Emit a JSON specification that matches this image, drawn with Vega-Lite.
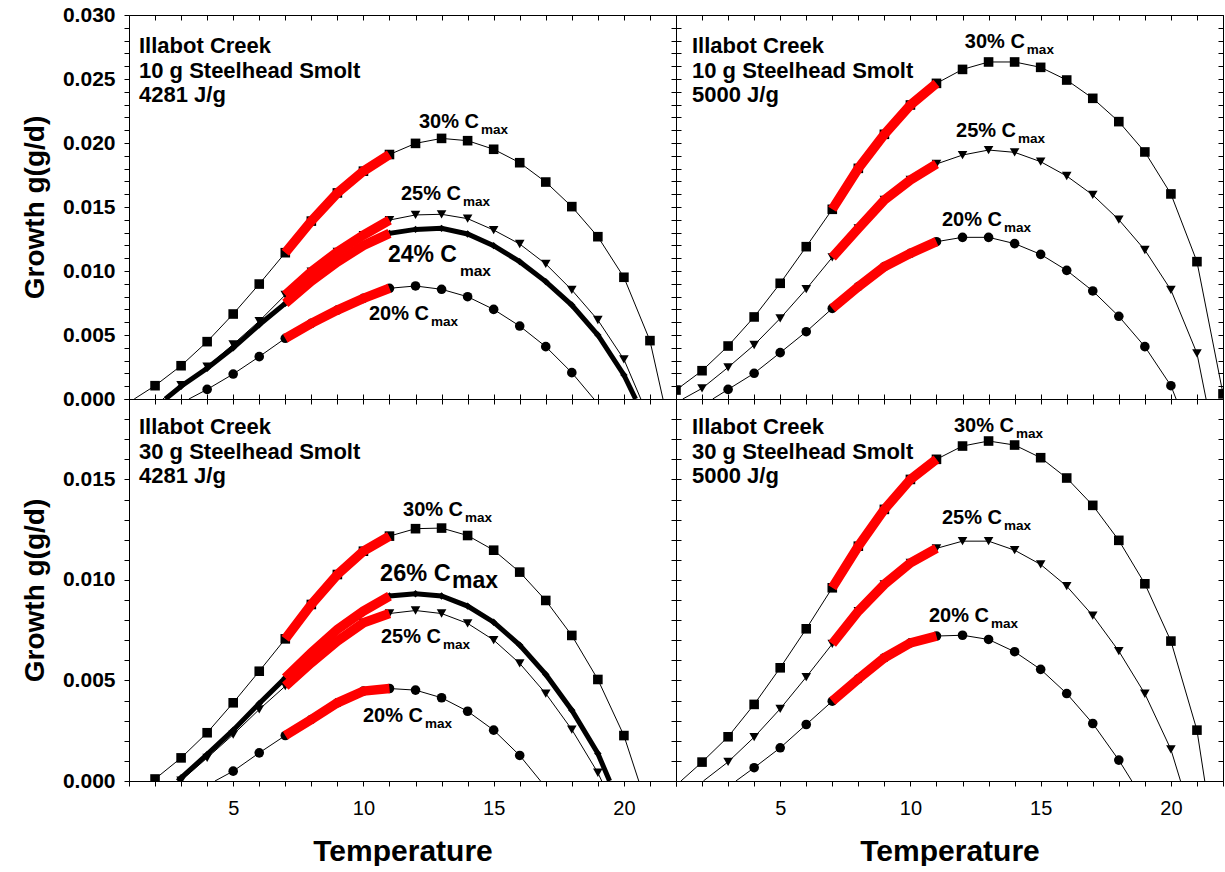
{
"$schema": "https://vega.github.io/schema/vega-lite/v6.json",
"background": "white",
"padding": {"left": 21, "top": 4, "right": 0, "bottom": 0},
"config": {"font": "Liberation Sans", "view": {"stroke": null}, "axis": {"labelFont": "Liberation Sans", "titleFont": "Liberation Sans"}, "text": {"font": "Liberation Sans", "color": "black"}},
"datasets": {
"curves": [
{"p":"TL","s":"30","T":1.2,"g":0},{"p":"TL","s":"30","T":2,"g":0.00104},{"p":"TL","s":"30","T":3,"g":0.0026},{"p":"TL","s":"30","T":4,"g":0.00448},{"p":"TL","s":"30","T":5,"g":0.00664},{"p":"TL","s":"30","T":6,"g":0.00898},{"p":"TL","s":"30","T":7,"g":0.01143},{"p":"TL","s":"30","T":8,"g":0.0139},{"p":"TL","s":"30","T":9,"g":0.0161},{"p":"TL","s":"30","T":10,"g":0.0178},{"p":"TL","s":"30","T":11,"g":0.0191},{"p":"TL","s":"30","T":12,"g":0.01997},{"p":"TL","s":"30","T":13,"g":0.02036},{"p":"TL","s":"30","T":14,"g":0.02018},{"p":"TL","s":"30","T":15,"g":0.01951},{"p":"TL","s":"30","T":16,"g":0.01846},{"p":"TL","s":"30","T":17,"g":0.01695},{"p":"TL","s":"30","T":18,"g":0.01503},{"p":"TL","s":"30","T":19,"g":0.01268},{"p":"TL","s":"30","T":20,"g":0.00951},{"p":"TL","s":"30","T":21,"g":0.00456},{"p":"TL","s":"30","T":21.5,"g":0},
{"p":"TL","s":"25","T":2.3,"g":0},{"p":"TL","s":"25","T":3,"g":0.00109},{"p":"TL","s":"25","T":4,"g":0.00253},{"p":"TL","s":"25","T":5,"g":0.00427},{"p":"TL","s":"25","T":6,"g":0.00609},{"p":"TL","s":"25","T":7,"g":0.00813},{"p":"TL","s":"25","T":8,"g":0.00995},{"p":"TL","s":"25","T":9,"g":0.0115},{"p":"TL","s":"25","T":10,"g":0.01281},{"p":"TL","s":"25","T":11,"g":0.01398},{"p":"TL","s":"25","T":12,"g":0.01438},{"p":"TL","s":"25","T":13,"g":0.01443},{"p":"TL","s":"25","T":14,"g":0.01409},{"p":"TL","s":"25","T":15,"g":0.0132},{"p":"TL","s":"25","T":16,"g":0.01211},{"p":"TL","s":"25","T":17,"g":0.01055},{"p":"TL","s":"25","T":18,"g":0.00852},{"p":"TL","s":"25","T":19,"g":0.00617},{"p":"TL","s":"25","T":20,"g":0.0031},{"p":"TL","s":"25","T":20.65,"g":0},
{"p":"TL","s":"24","T":2.4,"g":0},{"p":"TL","s":"24","T":3,"g":0.001},{"p":"TL","s":"24","T":4,"g":0.0024},{"p":"TL","s":"24","T":5,"g":0.004},{"p":"TL","s":"24","T":6,"g":0.0058},{"p":"TL","s":"24","T":7,"g":0.00747},{"p":"TL","s":"24","T":8,"g":0.0092},{"p":"TL","s":"24","T":9,"g":0.0107},{"p":"TL","s":"24","T":10,"g":0.012},{"p":"TL","s":"24","T":11,"g":0.01294},{"p":"TL","s":"24","T":12,"g":0.01325},{"p":"TL","s":"24","T":13,"g":0.01333},{"p":"TL","s":"24","T":14,"g":0.01289},{"p":"TL","s":"24","T":15,"g":0.01198},{"p":"TL","s":"24","T":16,"g":0.01073},{"p":"TL","s":"24","T":17,"g":0.00917},{"p":"TL","s":"24","T":18,"g":0.00734},{"p":"TL","s":"24","T":19,"g":0.005},{"p":"TL","s":"24","T":20,"g":0.00188},{"p":"TL","s":"24","T":20.45,"g":0},
{"p":"TL","s":"20","T":3.3,"g":0},{"p":"TL","s":"20","T":4,"g":0.00075},{"p":"TL","s":"20","T":5,"g":0.00195},{"p":"TL","s":"20","T":6,"g":0.00331},{"p":"TL","s":"20","T":7,"g":0.00474},{"p":"TL","s":"20","T":8,"g":0.00591},{"p":"TL","s":"20","T":9,"g":0.00695},{"p":"TL","s":"20","T":10,"g":0.00786},{"p":"TL","s":"20","T":11,"g":0.00865},{"p":"TL","s":"20","T":12,"g":0.00883},{"p":"TL","s":"20","T":13,"g":0.00857},{"p":"TL","s":"20","T":14,"g":0.00799},{"p":"TL","s":"20","T":15,"g":0.007},{"p":"TL","s":"20","T":16,"g":0.0057},{"p":"TL","s":"20","T":17,"g":0.00409},{"p":"TL","s":"20","T":18,"g":0.00206},{"p":"TL","s":"20","T":18.85,"g":0},
{"p":"TR","s":"30","T":1,"g":0.0007},{"p":"TR","s":"30","T":2,"g":0.00221},{"p":"TR","s":"30","T":3,"g":0.00414},{"p":"TR","s":"30","T":4,"g":0.00641},{"p":"TR","s":"30","T":5,"g":0.00904},{"p":"TR","s":"30","T":6,"g":0.0119},{"p":"TR","s":"30","T":7,"g":0.01482},{"p":"TR","s":"30","T":8,"g":0.01802},{"p":"TR","s":"30","T":9,"g":0.02068},{"p":"TR","s":"30","T":10,"g":0.02297},{"p":"TR","s":"30","T":11,"g":0.02466},{"p":"TR","s":"30","T":12,"g":0.02575},{"p":"TR","s":"30","T":13,"g":0.02633},{"p":"TR","s":"30","T":14,"g":0.02633},{"p":"TR","s":"30","T":15,"g":0.02591},{"p":"TR","s":"30","T":16,"g":0.02492},{"p":"TR","s":"30","T":17,"g":0.02349},{"p":"TR","s":"30","T":18,"g":0.02167},{"p":"TR","s":"30","T":19,"g":0.0193},{"p":"TR","s":"30","T":20,"g":0.01602},{"p":"TR","s":"30","T":21,"g":0.01073},{"p":"TR","s":"30","T":22,"g":0.0004},
{"p":"TR","s":"25","T":1.26,"g":0},{"p":"TR","s":"25","T":2,"g":0.00083},{"p":"TR","s":"25","T":3,"g":0.00247},{"p":"TR","s":"25","T":4,"g":0.00422},{"p":"TR","s":"25","T":5,"g":0.0063},{"p":"TR","s":"25","T":6,"g":0.00859},{"p":"TR","s":"25","T":7,"g":0.01107},{"p":"TR","s":"25","T":8,"g":0.01333},{"p":"TR","s":"25","T":9,"g":0.01555},{"p":"TR","s":"25","T":10,"g":0.01711},{"p":"TR","s":"25","T":11,"g":0.01836},{"p":"TR","s":"25","T":12,"g":0.01906},{"p":"TR","s":"25","T":13,"g":0.01945},{"p":"TR","s":"25","T":14,"g":0.01927},{"p":"TR","s":"25","T":15,"g":0.01854},{"p":"TR","s":"25","T":16,"g":0.01742},{"p":"TR","s":"25","T":17,"g":0.01594},{"p":"TR","s":"25","T":18,"g":0.01401},{"p":"TR","s":"25","T":19,"g":0.01164},{"p":"TR","s":"25","T":20,"g":0.00852},{"p":"TR","s":"25","T":21,"g":0.00357},{"p":"TR","s":"25","T":21.35,"g":0},
{"p":"TR","s":"20","T":2.41,"g":0},{"p":"TR","s":"20","T":3,"g":0.00075},{"p":"TR","s":"20","T":4,"g":0.00201},{"p":"TR","s":"20","T":5,"g":0.00362},{"p":"TR","s":"20","T":6,"g":0.00526},{"p":"TR","s":"20","T":7,"g":0.00708},{"p":"TR","s":"20","T":8,"g":0.00878},{"p":"TR","s":"20","T":9,"g":0.01034},{"p":"TR","s":"20","T":10,"g":0.01138},{"p":"TR","s":"20","T":11,"g":0.01229},{"p":"TR","s":"20","T":12,"g":0.01263},{"p":"TR","s":"20","T":13,"g":0.01263},{"p":"TR","s":"20","T":14,"g":0.01214},{"p":"TR","s":"20","T":15,"g":0.0113},{"p":"TR","s":"20","T":16,"g":0.01005},{"p":"TR","s":"20","T":17,"g":0.00844},{"p":"TR","s":"20","T":18,"g":0.00646},{"p":"TR","s":"20","T":19,"g":0.00409},{"p":"TR","s":"20","T":20,"g":0.00104},{"p":"TR","s":"20","T":20.2,"g":0},
{"p":"BL","s":"30","T":2,"g":0.0001},{"p":"BL","s":"30","T":3,"g":0.00115},{"p":"BL","s":"30","T":4,"g":0.0024},{"p":"BL","s":"30","T":5,"g":0.00389},{"p":"BL","s":"30","T":6,"g":0.00546},{"p":"BL","s":"30","T":7,"g":0.00707},{"p":"BL","s":"30","T":8,"g":0.00878},{"p":"BL","s":"30","T":9,"g":0.01027},{"p":"BL","s":"30","T":10,"g":0.01143},{"p":"BL","s":"30","T":11,"g":0.01218},{"p":"BL","s":"30","T":12,"g":0.01255},{"p":"BL","s":"30","T":13,"g":0.01258},{"p":"BL","s":"30","T":14,"g":0.01221},{"p":"BL","s":"30","T":15,"g":0.01148},{"p":"BL","s":"30","T":16,"g":0.01039},{"p":"BL","s":"30","T":17,"g":0.00898},{"p":"BL","s":"30","T":18,"g":0.00724},{"p":"BL","s":"30","T":19,"g":0.00505},{"p":"BL","s":"30","T":20,"g":0.00226},{"p":"BL","s":"30","T":20.57,"g":0},
{"p":"BL","s":"26","T":2.87,"g":0},{"p":"BL","s":"26","T":3,"g":0.00016},{"p":"BL","s":"26","T":4,"g":0.00132},{"p":"BL","s":"26","T":5,"g":0.00253},{"p":"BL","s":"26","T":6,"g":0.00386},{"p":"BL","s":"26","T":7,"g":0.00513},{"p":"BL","s":"26","T":8,"g":0.00638},{"p":"BL","s":"26","T":9,"g":0.00754},{"p":"BL","s":"26","T":10,"g":0.00845},{"p":"BL","s":"26","T":11,"g":0.0092},{"p":"BL","s":"26","T":12,"g":0.00931},{"p":"BL","s":"26","T":13,"g":0.0092},{"p":"BL","s":"26","T":14,"g":0.0087},{"p":"BL","s":"26","T":15,"g":0.0079},{"p":"BL","s":"26","T":16,"g":0.00676},{"p":"BL","s":"26","T":17,"g":0.0053},{"p":"BL","s":"26","T":18,"g":0.00352},{"p":"BL","s":"26","T":19,"g":0.00137},{"p":"BL","s":"26","T":19.45,"g":0},
{"p":"BL","s":"25","T":3,"g":0.00002},{"p":"BL","s":"25","T":4,"g":0.00115},{"p":"BL","s":"25","T":5,"g":0.00231},{"p":"BL","s":"25","T":6,"g":0.00356},{"p":"BL","s":"25","T":7,"g":0.00472},{"p":"BL","s":"25","T":8,"g":0.00588},{"p":"BL","s":"25","T":9,"g":0.00696},{"p":"BL","s":"25","T":10,"g":0.00787},{"p":"BL","s":"25","T":11,"g":0.00833},{"p":"BL","s":"25","T":12,"g":0.00848},{"p":"BL","s":"25","T":13,"g":0.00833},{"p":"BL","s":"25","T":14,"g":0.00784},{"p":"BL","s":"25","T":15,"g":0.00701},{"p":"BL","s":"25","T":16,"g":0.00585},{"p":"BL","s":"25","T":17,"g":0.00435},{"p":"BL","s":"25","T":18,"g":0.00256},{"p":"BL","s":"25","T":19,"g":0.00041},{"p":"BL","s":"25","T":19.15,"g":0},
{"p":"BL","s":"20","T":4.3,"g":0},{"p":"BL","s":"20","T":5,"g":0.00049},{"p":"BL","s":"20","T":6,"g":0.0014},{"p":"BL","s":"20","T":7,"g":0.00226},{"p":"BL","s":"20","T":8,"g":0.00306},{"p":"BL","s":"20","T":9,"g":0.00389},{"p":"BL","s":"20","T":10,"g":0.00447},{"p":"BL","s":"20","T":11,"g":0.0046},{"p":"BL","s":"20","T":12,"g":0.00452},{"p":"BL","s":"20","T":13,"g":0.00414},{"p":"BL","s":"20","T":14,"g":0.00347},{"p":"BL","s":"20","T":15,"g":0.00253},{"p":"BL","s":"20","T":16,"g":0.00127},{"p":"BL","s":"20","T":16.8,"g":0},
{"p":"BR","s":"30","T":1.19,"g":0},{"p":"BR","s":"30","T":2,"g":0.00094},{"p":"BR","s":"30","T":3,"g":0.0022},{"p":"BR","s":"30","T":4,"g":0.00381},{"p":"BR","s":"30","T":5,"g":0.00563},{"p":"BR","s":"30","T":6,"g":0.00757},{"p":"BR","s":"30","T":7,"g":0.00961},{"p":"BR","s":"30","T":8,"g":0.01168},{"p":"BR","s":"30","T":9,"g":0.01351},{"p":"BR","s":"30","T":10,"g":0.015},{"p":"BR","s":"30","T":11,"g":0.016},{"p":"BR","s":"30","T":12,"g":0.01666},{"p":"BR","s":"30","T":13,"g":0.01691},{"p":"BR","s":"30","T":14,"g":0.01671},{"p":"BR","s":"30","T":15,"g":0.01608},{"p":"BR","s":"30","T":16,"g":0.01507},{"p":"BR","s":"30","T":17,"g":0.01371},{"p":"BR","s":"30","T":18,"g":0.01197},{"p":"BR","s":"30","T":19,"g":0.00981},{"p":"BR","s":"30","T":20,"g":0.00696},{"p":"BR","s":"30","T":21,"g":0.00253},{"p":"BR","s":"30","T":21.3,"g":0},
{"p":"BR","s":"25","T":2.05,"g":0},{"p":"BR","s":"25","T":3,"g":0.00095},{"p":"BR","s":"25","T":4,"g":0.00218},{"p":"BR","s":"25","T":5,"g":0.00359},{"p":"BR","s":"25","T":6,"g":0.00517},{"p":"BR","s":"25","T":7,"g":0.00682},{"p":"BR","s":"25","T":8,"g":0.00845},{"p":"BR","s":"25","T":9,"g":0.00978},{"p":"BR","s":"25","T":10,"g":0.01085},{"p":"BR","s":"25","T":11,"g":0.01157},{"p":"BR","s":"25","T":12,"g":0.01193},{"p":"BR","s":"25","T":13,"g":0.01193},{"p":"BR","s":"25","T":14,"g":0.01148},{"p":"BR","s":"25","T":15,"g":0.01077},{"p":"BR","s":"25","T":16,"g":0.00969},{"p":"BR","s":"25","T":17,"g":0.00823},{"p":"BR","s":"25","T":18,"g":0.00646},{"p":"BR","s":"25","T":19,"g":0.00434},{"p":"BR","s":"25","T":20,"g":0.00157},{"p":"BR","s":"25","T":20.37,"g":0},
{"p":"BR","s":"20","T":3.3,"g":0},{"p":"BR","s":"20","T":4,"g":0.00066},{"p":"BR","s":"20","T":5,"g":0.00165},{"p":"BR","s":"20","T":6,"g":0.00281},{"p":"BR","s":"20","T":7,"g":0.00397},{"p":"BR","s":"20","T":8,"g":0.00508},{"p":"BR","s":"20","T":9,"g":0.00613},{"p":"BR","s":"20","T":10,"g":0.00687},{"p":"BR","s":"20","T":11,"g":0.00721},{"p":"BR","s":"20","T":12,"g":0.00725},{"p":"BR","s":"20","T":13,"g":0.00704},{"p":"BR","s":"20","T":14,"g":0.00643},{"p":"BR","s":"20","T":15,"g":0.00555},{"p":"BR","s":"20","T":16,"g":0.00435},{"p":"BR","s":"20","T":17,"g":0.00286},{"p":"BR","s":"20","T":18,"g":0.00104},{"p":"BR","s":"20","T":18.5,"g":0}
],
"labels": [
{"p":"TL","T":12.13,"g":0.02117,"t":"30% C","k":"n"},{"p":"TL","T":11.44,"g":0.01555,"t":"25% C","k":"n"},{"p":"TL","T":10.94,"g":0.0107,"t":"24% C","k":"big"},{"p":"TL","T":10.21,"g":0.00617,"t":"20% C","k":"n"},
{"p":"TR","T":12.09,"g":0.02742,"t":"30% C","k":"n"},{"p":"TR","T":11.75,"g":0.02047,"t":"25% C","k":"n"},{"p":"TR","T":11.21,"g":0.01352,"t":"20% C","k":"n"},
{"p":"BL","T":11.52,"g":0.01316,"t":"30% C","k":"n"},{"p":"BL","T":10.64,"g":0.00993,"t":"26% C","k":"big"},{"p":"BL","T":10.67,"g":0.00684,"t":"25% C","k":"n"},{"p":"BL","T":9.98,"g":0.00291,"t":"20% C","k":"n"},
{"p":"BR","T":11.67,"g":0.01734,"t":"30% C","k":"n"},{"p":"BR","T":11.21,"g":0.01276,"t":"25% C","k":"n"},{"p":"BR","T":10.71,"g":0.0079,"t":"20% C","k":"n"},
{"p":"TL","T":1.384,"g":0.02703,"t":"Illabot Creek\n10 g Steelhead Smolt\n4281 J/g","k":"title"},
{"p":"TR","T":1.614,"g":0.02703,"t":"Illabot Creek\n10 g Steelhead Smolt\n5000 J/g","k":"title"},
{"p":"BL","T":1.384,"g":0.01724,"t":"Illabot Creek\n30 g Steelhead Smolt\n4281 J/g","k":"title"},
{"p":"BR","T":1.614,"g":0.01724,"t":"Illabot Creek\n30 g Steelhead Smolt\n5000 J/g","k":"title"}
]
},
"columns": 2,
"spacing": 0,
"align": "each",
"bounds": "flush",
"concat": [
{
"width": 547, "height": 384,
"layer": [
{"data":{"name":"curves"},"transform":[{"filter":"datum.p=='TL' && datum.s!='24' && datum.s!='26'"}],
 "mark":{"type":"line","color":"black","strokeWidth":1,"clip":true},
 "encoding":{"x":{"field":"T","type":"quantitative","scale":{"domain":[1,22],"nice":false,"zero":false},"axis":{"orient":"bottom","values":[1,2,3,4,5,6,7,8,9,10,11,12,13,14,15,16,17,18,19,20,21,22],"labels":false,"tickSize":-5,"tickColor":"black","domainColor":"black","grid":false,"title":null}},
 "y":{"field":"g","type":"quantitative","scale":{"domain":[0,0.03],"nice":false},"axis":{"orient":"left","values":[0,0.001,0.002,0.003,0.004,0.005,0.006,0.007,0.008,0.009,0.01,0.011,0.012,0.013,0.014,0.015,0.016,0.017,0.018,0.019,0.02,0.021,0.022,0.023,0.024,0.025,0.026,0.027,0.028,0.029,0.03],"labelExpr":"round(datum.value*1000) % 5 == 0 ? format(datum.value, '.3f') : ''","labelFontSize":21,"labelFontWeight":"bold","labelColor":"black","labelPadding":9,"labelOverlap":false,"labelFlush":false,"tickSize":5,"tickColor":"black","domainColor":"black","grid":false,"title":"Growth g(g/d)","titleFontSize":28,"titleFontWeight":"bold","titleColor":"black","titlePadding":13}},
 "detail":{"field":"s"}}},
{"data":{"name":"curves"},"transform":[{"filter":"datum.p=='TL' && datum.s=='24'"}],
 "mark":{"type":"line","color":"black","strokeWidth":5,"clip":true},
 "encoding":{"x":{"field":"T","type":"quantitative","scale":{"domain":[1,22],"nice":false,"zero":false},"axis":null},"y":{"field":"g","type":"quantitative","scale":{"domain":[0,0.03],"nice":false},"axis":null},"detail":{"field":"s"}}},
{"data":{"name":"curves"},"transform":[{"filter":"datum.p=='TL' && datum.s!='24' && datum.T == floor(datum.T)"}],
 "mark":{"type":"point","filled":true,"color":"black","opacity":1,"size":92,"clip":true},
 "encoding":{"x":{"field":"T","type":"quantitative","axis":null},"y":{"field":"g","type":"quantitative","axis":null},"shape":{"field":"s","type":"nominal","scale":{"domain":["30","25","20"],"range":["square","triangle-down","circle"]},"legend":null}}},
{"data":{"name":"curves"},"transform":[{"filter":"datum.p=='TL' && datum.s=='24' && datum.T == floor(datum.T)"}],
 "mark":{"type":"point","filled":true,"color":"black","opacity":1,"size":55,"shape":"diamond","clip":true},
 "encoding":{"x":{"field":"T","type":"quantitative","axis":null},"y":{"field":"g","type":"quantitative","axis":null}}},
{"data":{"name":"curves"},"transform":[{"filter":"datum.p=='TL' && datum.T >= 7 && datum.T <= 11"}],
 "mark":{"type":"line","color":"#ff0000","strokeWidth":9.5,"strokeCap":"butt"},
 "encoding":{"x":{"field":"T","type":"quantitative","axis":{"orient":"top","values":[1,2,3,4,5,6,7,8,9,10,11,12,13,14,15,16,17,18,19,20,21,22],"labels":false,"tickSize":-5,"tickColor":"black","domainColor":"black","grid":false,"title":null}},
 "y":{"field":"g","type":"quantitative","axis":{"orient":"right","values":[0,0.001,0.002,0.003,0.004,0.005,0.006,0.007,0.008,0.009,0.01,0.011,0.012,0.013,0.014,0.015,0.016,0.017,0.018,0.019,0.02,0.021,0.022,0.023,0.024,0.025,0.026,0.027,0.028,0.029,0.03],"labels":false,"tickSize":-5,"tickColor":"black","domainColor":"black","grid":false,"title":null}},
 "detail":{"field":"s"}}},
{"data":{"name":"labels"},"transform":[{"filter":"datum.p=='TL' && datum.k=='n'"}],
 "mark":{"type":"text","align":"left","baseline":"alphabetic","fontSize":20,"fontWeight":"bold"},
 "encoding":{"x":{"field":"T","type":"quantitative","axis":null},"y":{"field":"g","type":"quantitative","axis":null},"text":{"field":"t"}}},
{"data":{"name":"labels"},"transform":[{"filter":"datum.p=='TL' && datum.k=='n'"}],
 "mark":{"type":"text","align":"left","baseline":"alphabetic","fontSize":13.5,"fontWeight":"bold","dx":62,"dy":6},
 "encoding":{"x":{"field":"T","type":"quantitative","axis":null},"y":{"field":"g","type":"quantitative","axis":null},"text":{"value":"max"}}},
{"data":{"name":"labels"},"transform":[{"filter":"datum.p=='TL' && datum.k=='big'"}],
 "mark":{"type":"text","align":"left","baseline":"alphabetic","fontSize":23,"fontWeight":"bold"},
 "encoding":{"x":{"field":"T","type":"quantitative","axis":null},"y":{"field":"g","type":"quantitative","axis":null},"text":{"field":"t"}}},
{"data":{"name":"labels"},"transform":[{"filter":"datum.p=='TL' && datum.k=='big'"}],
 "mark":{"type":"text","align":"left","baseline":"alphabetic","fontSize":15.5,"fontWeight":"bold","dx":72,"dy":14},
 "encoding":{"x":{"field":"T","type":"quantitative","axis":null},"y":{"field":"g","type":"quantitative","axis":null},"text":{"value":"max"}}},
{"data":{"name":"labels"},"transform":[{"filter":"datum.p=='TL' && datum.k=='title'"}],
 "mark":{"type":"text","align":"left","baseline":"alphabetic","fontSize":22,"fontWeight":"bold","lineBreak":"\n","lineHeight":24.5},
 "encoding":{"x":{"field":"T","type":"quantitative","axis":null},"y":{"field":"g","type":"quantitative","axis":null},"text":{"field":"t"}}}
],
"resolve":{"axis":{"x":"independent","y":"independent"}}
},
{
"width": 547, "height": 384,
"layer": [
{"data":{"name":"curves"},"transform":[{"filter":"datum.p=='TR'"}],
 "mark":{"type":"line","color":"black","strokeWidth":1,"clip":true},
 "encoding":{"x":{"field":"T","type":"quantitative","scale":{"domain":[1,22],"nice":false,"zero":false},"axis":{"orient":"bottom","values":[1,2,3,4,5,6,7,8,9,10,11,12,13,14,15,16,17,18,19,20,21,22],"labels":false,"tickSize":-5,"tickColor":"black","domainColor":"black","grid":false,"title":null}},
 "y":{"field":"g","type":"quantitative","scale":{"domain":[0,0.03],"nice":false},"axis":{"orient":"left","values":[0,0.001,0.002,0.003,0.004,0.005,0.006,0.007,0.008,0.009,0.01,0.011,0.012,0.013,0.014,0.015,0.016,0.017,0.018,0.019,0.02,0.021,0.022,0.023,0.024,0.025,0.026,0.027,0.028,0.029,0.03],"labels":false,"tickSize":-5,"tickColor":"black","domainColor":"black","grid":false,"title":null}},
 "detail":{"field":"s"}}},
{"data":{"name":"curves"},"transform":[{"filter":"datum.p=='TR' && datum.T == floor(datum.T)"}],
 "mark":{"type":"point","filled":true,"color":"black","opacity":1,"size":92,"clip":true},
 "encoding":{"x":{"field":"T","type":"quantitative","axis":null},"y":{"field":"g","type":"quantitative","axis":null},"shape":{"field":"s","type":"nominal","scale":{"domain":["30","25","20"],"range":["square","triangle-down","circle"]},"legend":null}}},
{"data":{"name":"curves"},"transform":[{"filter":"datum.p=='TR' && datum.T >= 7 && datum.T <= 11"}],
 "mark":{"type":"line","color":"#ff0000","strokeWidth":9.5,"strokeCap":"butt"},
 "encoding":{"x":{"field":"T","type":"quantitative","axis":{"orient":"top","values":[1,2,3,4,5,6,7,8,9,10,11,12,13,14,15,16,17,18,19,20,21,22],"labels":false,"tickSize":-5,"tickColor":"black","domainColor":"black","grid":false,"title":null}},
 "y":{"field":"g","type":"quantitative","axis":{"orient":"right","values":[0,0.001,0.002,0.003,0.004,0.005,0.006,0.007,0.008,0.009,0.01,0.011,0.012,0.013,0.014,0.015,0.016,0.017,0.018,0.019,0.02,0.021,0.022,0.023,0.024,0.025,0.026,0.027,0.028,0.029,0.03],"labels":false,"tickSize":-5,"tickColor":"black","domainColor":"black","grid":false,"title":null}},
 "detail":{"field":"s"}}},
{"data":{"name":"labels"},"transform":[{"filter":"datum.p=='TR' && datum.k=='n'"}],
 "mark":{"type":"text","align":"left","baseline":"alphabetic","fontSize":20,"fontWeight":"bold"},
 "encoding":{"x":{"field":"T","type":"quantitative","axis":null},"y":{"field":"g","type":"quantitative","axis":null},"text":{"field":"t"}}},
{"data":{"name":"labels"},"transform":[{"filter":"datum.p=='TR' && datum.k=='n'"}],
 "mark":{"type":"text","align":"left","baseline":"alphabetic","fontSize":13.5,"fontWeight":"bold","dx":62,"dy":6},
 "encoding":{"x":{"field":"T","type":"quantitative","axis":null},"y":{"field":"g","type":"quantitative","axis":null},"text":{"value":"max"}}},
{"data":{"name":"labels"},"transform":[{"filter":"datum.p=='TR' && datum.k=='title'"}],
 "mark":{"type":"text","align":"left","baseline":"alphabetic","fontSize":22,"fontWeight":"bold","lineBreak":"\n","lineHeight":24.5},
 "encoding":{"x":{"field":"T","type":"quantitative","axis":null},"y":{"field":"g","type":"quantitative","axis":null},"text":{"field":"t"}}}
],
"resolve":{"axis":{"x":"independent","y":"independent"}}
},
{
"width": 547, "height": 382,
"layer": [
{"data":{"name":"curves"},"transform":[{"filter":"datum.p=='BL' && datum.s!='26'"}],
 "mark":{"type":"line","color":"black","strokeWidth":1,"clip":true},
 "encoding":{"x":{"field":"T","type":"quantitative","scale":{"domain":[1,22],"nice":false,"zero":false},"axis":{"orient":"bottom","values":[1,2,3,4,5,6,7,8,9,10,11,12,13,14,15,16,17,18,19,20,21,22],"labelExpr":"datum.value % 5 == 0 ? datum.label : ''","labelFontSize":20,"labelFontWeight":"normal","labelColor":"black","labelPadding":12,"labelOverlap":false,"labelFlush":false,"tickSize":5,"tickColor":"black","domainColor":"black","grid":false,"title":"Temperature","titleFontSize":30,"titleFontWeight":"bold","titleColor":"black","titlePadding":18}},
 "y":{"field":"g","type":"quantitative","scale":{"domain":[0,0.019],"nice":false},"axis":{"orient":"left","values":[0,0.001,0.002,0.003,0.004,0.005,0.006,0.007,0.008,0.009,0.01,0.011,0.012,0.013,0.014,0.015,0.016,0.017,0.018,0.019],"labelExpr":"round(datum.value*1000) % 5 == 0 ? format(datum.value, '.3f') : ''","labelFontSize":21,"labelFontWeight":"bold","labelColor":"black","labelPadding":9,"labelOverlap":false,"labelFlush":false,"tickSize":5,"tickColor":"black","domainColor":"black","grid":false,"title":"Growth g(g/d)","titleFontSize":28,"titleFontWeight":"bold","titleColor":"black","titlePadding":13}},
 "detail":{"field":"s"}}},
{"data":{"name":"curves"},"transform":[{"filter":"datum.p=='BL' && datum.s=='26'"}],
 "mark":{"type":"line","color":"black","strokeWidth":5,"clip":true},
 "encoding":{"x":{"field":"T","type":"quantitative","scale":{"domain":[1,22],"nice":false,"zero":false},"axis":null},"y":{"field":"g","type":"quantitative","scale":{"domain":[0,0.019],"nice":false},"axis":null},"detail":{"field":"s"}}},
{"data":{"name":"curves"},"transform":[{"filter":"datum.p=='BL' && datum.s!='26' && datum.T == floor(datum.T)"}],
 "mark":{"type":"point","filled":true,"color":"black","opacity":1,"size":92,"clip":true},
 "encoding":{"x":{"field":"T","type":"quantitative","axis":null},"y":{"field":"g","type":"quantitative","axis":null},"shape":{"field":"s","type":"nominal","scale":{"domain":["30","25","20"],"range":["square","triangle-down","circle"]},"legend":null}}},
{"data":{"name":"curves"},"transform":[{"filter":"datum.p=='BL' && datum.s=='26' && datum.T == floor(datum.T)"}],
 "mark":{"type":"point","filled":true,"color":"black","opacity":1,"size":55,"shape":"diamond","clip":true},
 "encoding":{"x":{"field":"T","type":"quantitative","axis":null},"y":{"field":"g","type":"quantitative","axis":null}}},
{"data":{"name":"curves"},"transform":[{"filter":"datum.p=='BL' && datum.T >= 7 && datum.T <= 11"}],
 "mark":{"type":"line","color":"#ff0000","strokeWidth":9.5,"strokeCap":"butt"},
 "encoding":{"x":{"field":"T","type":"quantitative","axis":{"orient":"top","values":[1,2,3,4,5,6,7,8,9,10,11,12,13,14,15,16,17,18,19,20,21,22],"labels":false,"tickSize":-5,"tickColor":"black","domainColor":"black","grid":false,"title":null}},
 "y":{"field":"g","type":"quantitative","axis":{"orient":"right","values":[0,0.001,0.002,0.003,0.004,0.005,0.006,0.007,0.008,0.009,0.01,0.011,0.012,0.013,0.014,0.015,0.016,0.017,0.018,0.019],"labels":false,"tickSize":-5,"tickColor":"black","domainColor":"black","grid":false,"title":null}},
 "detail":{"field":"s"}}},
{"data":{"name":"labels"},"transform":[{"filter":"datum.p=='BL' && datum.k=='n'"}],
 "mark":{"type":"text","align":"left","baseline":"alphabetic","fontSize":20,"fontWeight":"bold"},
 "encoding":{"x":{"field":"T","type":"quantitative","axis":null},"y":{"field":"g","type":"quantitative","axis":null},"text":{"field":"t"}}},
{"data":{"name":"labels"},"transform":[{"filter":"datum.p=='BL' && datum.k=='n'"}],
 "mark":{"type":"text","align":"left","baseline":"alphabetic","fontSize":13.5,"fontWeight":"bold","dx":62,"dy":6},
 "encoding":{"x":{"field":"T","type":"quantitative","axis":null},"y":{"field":"g","type":"quantitative","axis":null},"text":{"value":"max"}}},
{"data":{"name":"labels"},"transform":[{"filter":"datum.p=='BL' && datum.k=='big'"}],
 "mark":{"type":"text","align":"left","baseline":"alphabetic","fontSize":23.5,"fontWeight":"bold"},
 "encoding":{"x":{"field":"T","type":"quantitative","axis":null},"y":{"field":"g","type":"quantitative","axis":null},"text":{"field":"t"}}},
{"data":{"name":"labels"},"transform":[{"filter":"datum.p=='BL' && datum.k=='big'"}],
 "mark":{"type":"text","align":"left","baseline":"alphabetic","fontSize":23,"fontWeight":"bold","dx":72,"dy":7},
 "encoding":{"x":{"field":"T","type":"quantitative","axis":null},"y":{"field":"g","type":"quantitative","axis":null},"text":{"value":"max"}}},
{"data":{"name":"labels"},"transform":[{"filter":"datum.p=='BL' && datum.k=='title'"}],
 "mark":{"type":"text","align":"left","baseline":"alphabetic","fontSize":22,"fontWeight":"bold","lineBreak":"\n","lineHeight":24.5},
 "encoding":{"x":{"field":"T","type":"quantitative","axis":null},"y":{"field":"g","type":"quantitative","axis":null},"text":{"field":"t"}}}
],
"resolve":{"axis":{"x":"independent","y":"independent"}}
},
{
"width": 547, "height": 382,
"layer": [
{"data":{"name":"curves"},"transform":[{"filter":"datum.p=='BR'"}],
 "mark":{"type":"line","color":"black","strokeWidth":1,"clip":true},
 "encoding":{"x":{"field":"T","type":"quantitative","scale":{"domain":[1,22],"nice":false,"zero":false},"axis":{"orient":"bottom","values":[1,2,3,4,5,6,7,8,9,10,11,12,13,14,15,16,17,18,19,20,21,22],"labelExpr":"datum.value % 5 == 0 ? datum.label : ''","labelFontSize":20,"labelFontWeight":"normal","labelColor":"black","labelPadding":12,"labelOverlap":false,"labelFlush":false,"tickSize":5,"tickColor":"black","domainColor":"black","grid":false,"title":"Temperature","titleFontSize":30,"titleFontWeight":"bold","titleColor":"black","titlePadding":18}},
 "y":{"field":"g","type":"quantitative","scale":{"domain":[0,0.019],"nice":false},"axis":{"orient":"left","values":[0,0.001,0.002,0.003,0.004,0.005,0.006,0.007,0.008,0.009,0.01,0.011,0.012,0.013,0.014,0.015,0.016,0.017,0.018,0.019],"labels":false,"tickSize":-5,"tickColor":"black","domainColor":"black","grid":false,"title":null}},
 "detail":{"field":"s"}}},
{"data":{"name":"curves"},"transform":[{"filter":"datum.p=='BR' && datum.T == floor(datum.T)"}],
 "mark":{"type":"point","filled":true,"color":"black","opacity":1,"size":92,"clip":true},
 "encoding":{"x":{"field":"T","type":"quantitative","axis":null},"y":{"field":"g","type":"quantitative","axis":null},"shape":{"field":"s","type":"nominal","scale":{"domain":["30","25","20"],"range":["square","triangle-down","circle"]},"legend":null}}},
{"data":{"name":"curves"},"transform":[{"filter":"datum.p=='BR' && datum.T >= 7 && datum.T <= 11"}],
 "mark":{"type":"line","color":"#ff0000","strokeWidth":9.5,"strokeCap":"butt"},
 "encoding":{"x":{"field":"T","type":"quantitative","axis":{"orient":"top","values":[1,2,3,4,5,6,7,8,9,10,11,12,13,14,15,16,17,18,19,20,21,22],"labels":false,"tickSize":-5,"tickColor":"black","domainColor":"black","grid":false,"title":null}},
 "y":{"field":"g","type":"quantitative","axis":{"orient":"right","values":[0,0.001,0.002,0.003,0.004,0.005,0.006,0.007,0.008,0.009,0.01,0.011,0.012,0.013,0.014,0.015,0.016,0.017,0.018,0.019],"labels":false,"tickSize":-5,"tickColor":"black","domainColor":"black","grid":false,"title":null}},
 "detail":{"field":"s"}}},
{"data":{"name":"labels"},"transform":[{"filter":"datum.p=='BR' && datum.k=='n'"}],
 "mark":{"type":"text","align":"left","baseline":"alphabetic","fontSize":20,"fontWeight":"bold"},
 "encoding":{"x":{"field":"T","type":"quantitative","axis":null},"y":{"field":"g","type":"quantitative","axis":null},"text":{"field":"t"}}},
{"data":{"name":"labels"},"transform":[{"filter":"datum.p=='BR' && datum.k=='n'"}],
 "mark":{"type":"text","align":"left","baseline":"alphabetic","fontSize":13.5,"fontWeight":"bold","dx":62,"dy":6},
 "encoding":{"x":{"field":"T","type":"quantitative","axis":null},"y":{"field":"g","type":"quantitative","axis":null},"text":{"value":"max"}}},
{"data":{"name":"labels"},"transform":[{"filter":"datum.p=='BR' && datum.k=='title'"}],
 "mark":{"type":"text","align":"left","baseline":"alphabetic","fontSize":22,"fontWeight":"bold","lineBreak":"\n","lineHeight":24.5},
 "encoding":{"x":{"field":"T","type":"quantitative","axis":null},"y":{"field":"g","type":"quantitative","axis":null},"text":{"field":"t"}}}
],
"resolve":{"axis":{"x":"independent","y":"independent"}}
}
]
}
